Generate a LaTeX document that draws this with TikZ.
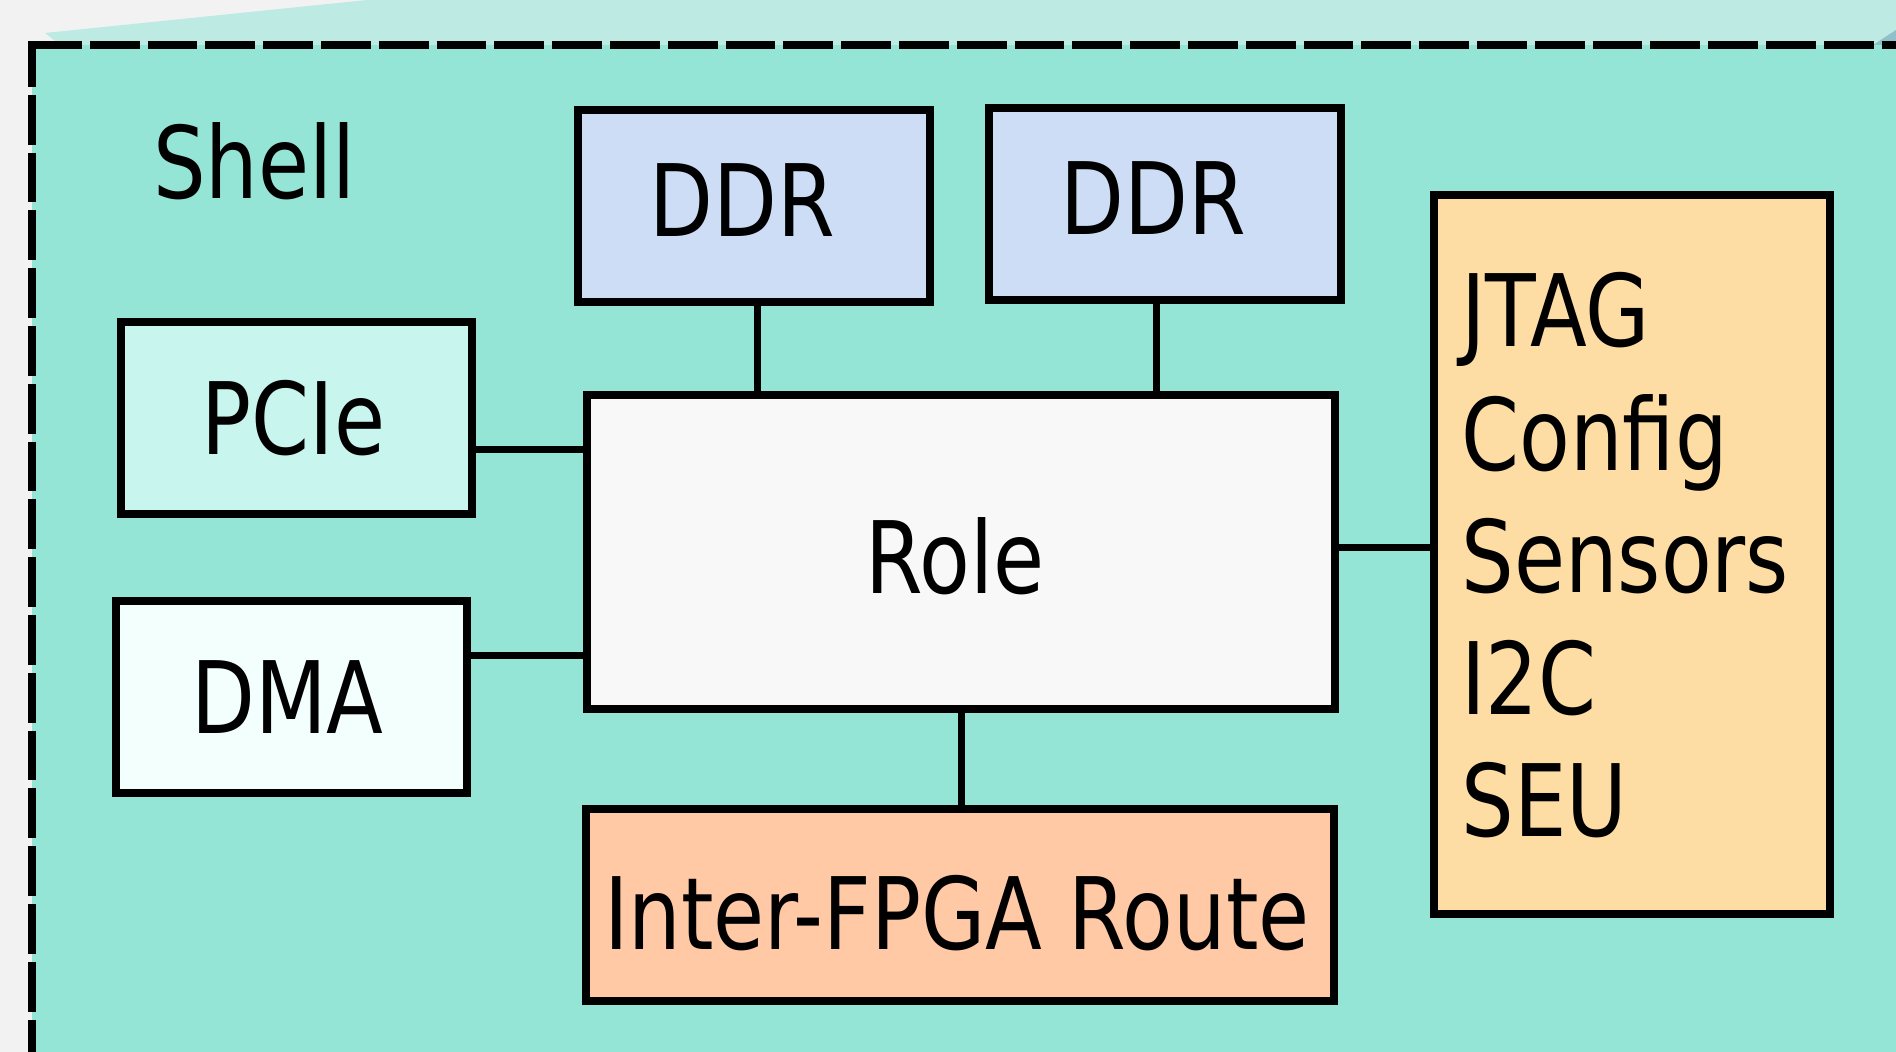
\documentclass[tikz,border=0pt]{standalone}
\usepackage{fontspec}
\newfontfamily\dv{DejaVu Sans}[FakeStretch=0.83]
\definecolor{bggrey}{HTML}{F2F2F2}
\definecolor{topteal}{HTML}{BDEBE4}
\definecolor{cornerblue}{HTML}{8FC0CB}
\definecolor{shellteal}{HTML}{94E5D6}
\definecolor{ddrblue}{HTML}{CCDDF5}
\definecolor{pciefill}{HTML}{C8F5EE}
\definecolor{dmafill}{HTML}{F3FFFC}
\definecolor{rolefill}{HTML}{F8F8F8}
\definecolor{interfill}{HTML}{FFC9A6}
\definecolor{jtagfill}{HTML}{FDDDA4}
\begin{document}
\begin{tikzpicture}[x=0.5pt,y=-0.5pt,
  lbl/.style={font=\dv\fontsize{50}{60}\selectfont, inner sep=0pt},
  box/.style={draw=black, line width=4pt, inner sep=0pt, minimum height=96pt,
    font=\dv\fontsize{50}{60}\selectfont, text height=36.5pt, text depth=0pt},
  conn/.style={draw=black, line width=3.5pt},
  shelldash/.style={draw=black, line width=4pt, dash pattern=on 24.9pt off 4pt}]
\useasboundingbox (0,0) rectangle (1896,1052);
\clip (0,0) rectangle (1896,1052);
% background
\fill[bggrey] (0,0) rectangle (1896,1052);
\fill[topteal] (45,33) -- (367,0) -- (1896,0) -- (1896,45) -- (60,45) -- cycle;
\fill[cornerblue] (1873,45) -- (1896,30) -- (1896,45) -- cycle;
\fill[shellteal] (32,45) rectangle (1910,1070);
\draw[shelldash] (32,45) -- (1910,45);
\draw[shelldash, dash phase=4pt] (32,45) -- (32,1070);
\fill[black] (28,41) rectangle (36,49);
% label
\node[lbl, anchor=base west] (shell) at (152.6,199) {Shell};
% boxes
\node[box, fill=ddrblue, minimum width=176pt, text height=31pt] (ddr1) at (754,206) {DDR\kern12pt};
\node[box, fill=ddrblue, minimum width=176pt, text height=31pt] (ddr2) at (1165,204) {DDR\kern12pt};
\node[box, fill=pciefill, minimum width=175.5pt] (pcie) at (296.5,418) {PCIe\kern3pt};
\node[box, fill=dmafill, minimum width=175.5pt] (dma) at (291.5,697) {DMA\kern4pt};
\node[box, fill=rolefill, minimum width=374pt, minimum height=157pt, text height=41.5pt] (role) at (961,552) {Role\kern6pt};
\node[box, fill=interfill, minimum width=374pt, text height=45pt] (inter) at (960,905) {Inter-FPGA Route\kern3pt};
\node[box, fill=jtagfill, minimum width=198pt, minimum height=359.5pt] (jtag) at (1632,554.5) {};
\foreach \t/\y [count=\i] in {JTAG/347, Config/470.4, Sensors/592.5, I2C/714.6, SEU/836.8}
  \node[lbl, anchor=base west] (j\i) at (1461,\y) {\t};
% connectors
\coordinate (c1) at (757,0);
\coordinate (c2) at (1156,0);
\coordinate (c3) at (961,0);
\coordinate (r1) at (0,450);
\coordinate (r2) at (0,655.4);
\coordinate (r3) at (0,548);
\draw[conn] (ddr1.south -| c1) -- (role.north -| c1);
\draw[conn] (ddr2.south -| c2) -- (role.north -| c2);
\draw[conn] (role.south -| c3) -- (inter.north -| c3);
\draw[conn] (pcie.east |- r1) -- (role.west |- r1);
\draw[conn] (dma.east |- r2) -- (role.west |- r2);
\draw[conn] (role.east |- r3) -- (jtag.west |- r3);
\end{tikzpicture}
\end{document}
